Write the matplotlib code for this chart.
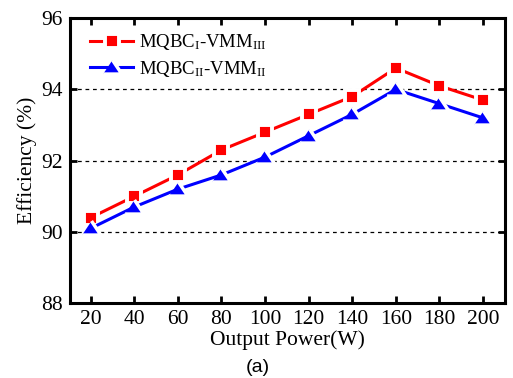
import numpy as np
import matplotlib
matplotlib.use("Agg")
import matplotlib.pyplot as plt

# data
power = [20, 40, 60, 80, 100, 120, 140, 160, 180, 200]
eff_a = [90.4, 91.0, 91.6, 92.3, 92.8, 93.3, 93.8, 94.6, 94.1, 93.7]
eff_b = [90.1, 90.7, 91.2, 91.6, 92.1, 92.7, 93.3, 94.0, 93.6, 93.2]
label_a = r'MQBC$_{\mathrm{I}}$-VMM$_{\mathrm{III}}$'
label_b = r'MQBC$_{\mathrm{II}}$-VMM$_{\mathrm{II}}$'
yticks = [88, 90, 92, 94, 96]

plt.rcParams['font.family'] = ['Liberation Serif', 'DejaVu Serif']
plt.rcParams['mathtext.fontset'] = 'custom'
plt.rcParams['mathtext.rm'] = 'Liberation Serif'
plt.rcParams['mathtext.it'] = 'Liberation Serif:italic'

fig = plt.figure(figsize=(5.13, 3.78), dpi=100)
ax = fig.add_axes([0.1365, 0.198, 0.8475, 0.754])

# flat triangle like the reference
tri = [(-1, -0.7), (1, -0.7), (0, 0.8)]

# white marker edge gives the gap between line and marker
ax.plot(power, eff_a, color='#ff0000', lw=2.2, marker='s', ms=9.5,
        mec='white', mew=2.8, mfc='#ff0000', label=label_a, zorder=3)
ax.plot(power, eff_b, color='#0000ff', lw=2.2, marker=tri, ms=13.5,
        mec='white', mew=2.5, mfc='#0000ff', label=label_b, zorder=3)

ax.set_xlim(10.5, 210)
ax.set_ylim(88, 96)
ax.set_xticks(power)
ax.set_yticks(yticks)
ax.yaxis.grid(True, ls=(0, (3, 3)), color='black', lw=0.9)

for s in ax.spines.values():
    s.set_linewidth(2.2)
ax.tick_params(direction='in', length=5, width=2, top=True, right=True,
               labelsize=15.5, pad=5)

ax.set_xlabel('Output Power(W)', fontsize=15.5, labelpad=1)
ax.set_ylabel('Efficiency (%)', fontsize=15.5, labelpad=3)

ax.legend(loc='upper left', frameon=False, fontsize=13.5, handlelength=2.3,
          numpoints=1, borderaxespad=0.2, handletextpad=0.3, labelspacing=0.35,
          bbox_to_anchor=(0.02, 0.99))

fig.text(0.503, 0.028, '(a)', fontsize=14, ha='center', va='center',
         family=['Liberation Sans', 'DejaVu Sans'])

fig.savefig('out.png', dpi=100)
